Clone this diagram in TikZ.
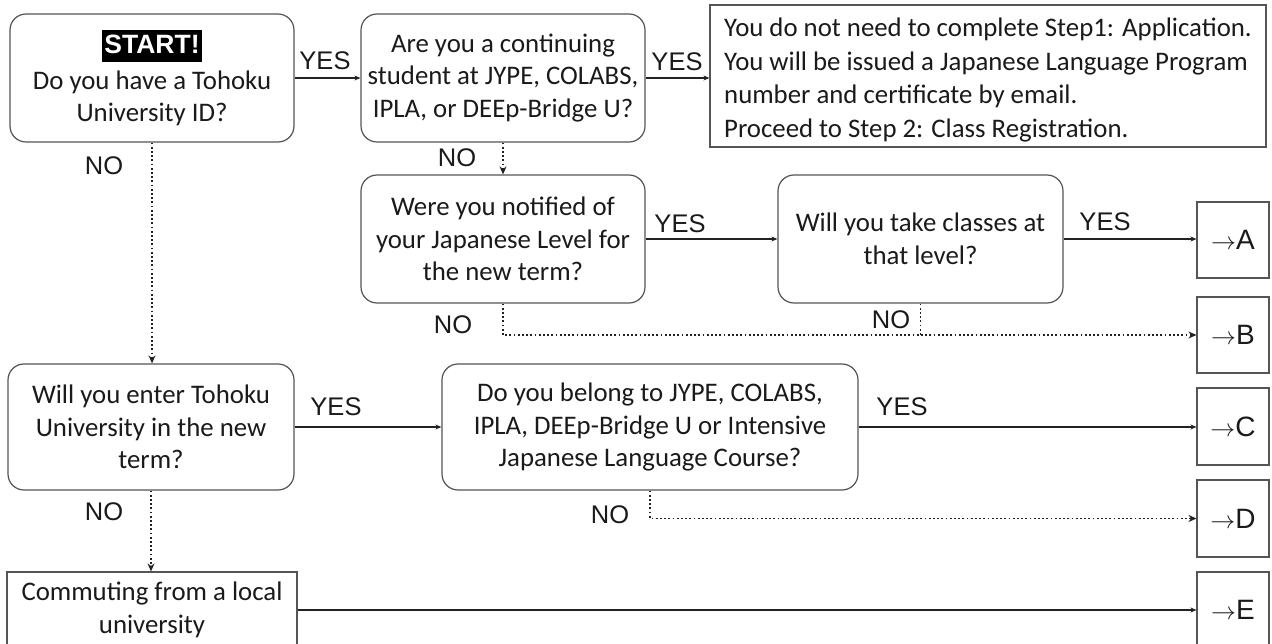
\documentclass[tikz,border=0pt]{standalone}
\usepackage{fontspec}
\setmainfont{Carlito}
\newfontfamily\labfont{Liberation Sans}
\usetikzlibrary{arrows.meta}
\definecolor{bordc}{HTML}{555555}
\definecolor{linec}{HTML}{222222}
\definecolor{txtc}{HTML}{1A1A1A}
\newcommand\startlbl{{\setlength{\fboxsep}{2pt}\colorbox{black}{\rule[-6pt]{0pt}{28pt}\textcolor{white}{\labfont\bfseries\fontsize{26.5}{30}\selectfont START!}}}}
\begin{document}
\begin{tikzpicture}[x=1pt,y=-1pt,
  qbox/.style={draw=bordc, line width=1.2pt, rounded corners=16pt, align=center, inner sep=0pt, font=\fontsize{26.8}{32.5}\selectfont, text=txtc},
  rbox/.style={draw=bordc, line width=1.2pt, align=center, inner sep=0pt, font=\fontsize{26.8}{33.6}\selectfont, text=txtc},
  endbox/.style={draw=bordc, line width=1.1pt, minimum width=72pt, minimum height=76pt, inner sep=0pt, font=\labfont\fontsize{28}{30}\selectfont, text=txtc},
  yn/.style={font=\labfont\fontsize{25.5}{28}\selectfont, inner sep=0pt, text=txtc},
  conn/.style={draw=linec, line width=1.3pt, -{Stealth[length=6pt,width=5pt]}},
  dconn/.style={draw=linec, line width=1.8pt, dash pattern=on 1.8pt off 2.4pt, -{Stealth[length=8pt,width=7pt]}},
  dline/.style={draw=linec, line width=1.8pt, dash pattern=on 1.8pt off 2.4pt},
]
\path[use as bounding box, fill=white] (0,0) rectangle (1272,644);

% question boxes
\node[qbox, minimum width=284pt, minimum height=128pt] (q1) at (152,78) {\startlbl\\[3pt]Do you have a Tohoku\\University ID?};
\node[qbox, minimum width=284pt, minimum height=128pt] (q2) at (503,78) {Are you a continuing\\student at JYPE, COLABS,\\IPLA, or DEEp-Bridge U?};
\node[rbox, minimum width=556pt, minimum height=142pt, align=left] (q3) at (988,76) {\rule{0pt}{27pt}You do not need to complete Step1: Application.\\You will be issued a Japanese Language Program\\number and certificate by email.\\Proceed to Step 2: Class Registration.};
\node[qbox, minimum width=284pt, minimum height=128pt] (q4) at (503,239) {Were you notified of\\your Japanese Level for\\the new term?};
\node[qbox, minimum width=285pt, minimum height=128pt] (q5) at (920.5,239) {Will you take classes at\\that level?};
\node[qbox, minimum width=286pt, minimum height=126pt] (q6) at (151,427) {Will you enter Tohoku\\University in the new\\term?};
\node[qbox, minimum width=416pt, minimum height=126pt] (q7) at (650,427) {Do you belong to JYPE, COLABS,\\IPLA, DEEp-Bridge U or Intensive\\Japanese Language Course?};
\node[rbox, minimum width=290pt, minimum height=76pt] (q8) at (152,610) {Commuting from a local\\university};

% end boxes
\node[endbox] (ea) at (1233,240) {$\rightarrow$A};
\node[endbox] (eb) at (1233,335) {$\rightarrow$B};
\node[endbox, minimum height=77pt] (ec) at (1233,426.5) {$\rightarrow$C};
\node[endbox, minimum height=77pt] (ed) at (1233,518.5) {$\rightarrow$D};
\node[endbox] (ee) at (1233,610) {$\rightarrow$E};

% labels
\node[yn] (y1) at (325,61) {YES};
\node[yn] (y2) at (677,62) {YES};
\node[yn] (n1) at (104,166) {NO};
\node[yn] (n2) at (457,158) {NO};
\node[yn] (y3) at (680,224) {YES};
\node[yn] (y4) at (1105,222) {YES};
\node[yn] (n3) at (453,325) {NO};
\node[yn] (n4) at (891,320) {NO};
\node[yn] (y5) at (336,407) {YES};
\node[yn] (y6) at (902,407) {YES};
\node[yn] (n5) at (610,515) {NO};
\node[yn] (n6) at (104,512) {NO};

% connectors
\draw[conn] (q1.east) -- (q2.west);
\draw[conn] (q2.east) -- (q2.east -| q3.west);
\draw[dconn] (q1.south) -- (q1.south |- q6.north);
\draw[dconn] (q2.south) -- (q4.north);
\draw[conn] (q4.east) -- (q5.west);
\draw[conn] (q5.east) -- (q5.east -| ea.west);
\draw[dconn] (q4.south) |- (eb.west);
\draw[dline] (q5.south) -- (q5.south |- eb.west);
\draw[conn] (q6.east) -- (q6.east -| q7.west);
\draw[conn] (q7.east) -- (q7.east -| ec.west);
\draw[dconn] (q7.south) |- (ed.west);
\draw[dconn] (q6.south) -- (q6.south |- q8.north);
\draw[conn] (q8.east) -- (q8.east -| ee.west);
\end{tikzpicture}
\end{document}
